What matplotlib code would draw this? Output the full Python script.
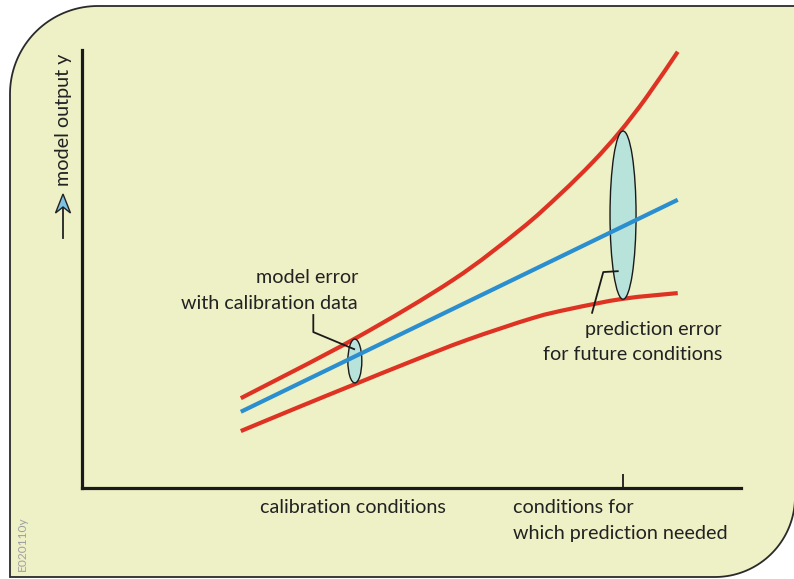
import numpy as np
import matplotlib
matplotlib.use("Agg")
import matplotlib.pyplot as plt
from matplotlib.patches import Ellipse, PathPatch, Polygon
from matplotlib.path import Path

# ---------------- data (arbitrary units 0..10) ----------------
x_upper = [2.41, 4.14, 5.63, 6.65, 7.25, 7.75, 8.16, 8.57, 9.04]
y_upper = [2.05, 3.41, 4.75, 5.90, 6.70, 7.44, 8.13, 8.93, 9.96]

x_lower = [2.41, 3.26, 4.14, 4.98, 5.84, 6.84, 7.41, 8.21, 9.04]
y_lower = [1.30, 1.83, 2.37, 2.88, 3.38, 3.88, 4.09, 4.32, 4.45]

x_model = [2.41, 9.04]
y_model = [1.74, 6.58]

calib_x, calib_y, calib_w, calib_h = 4.14, 2.90, 0.212, 1.00
pred_x, pred_y, pred_w, pred_h = 8.21, 6.23, 0.395, 3.84

tick_positions = [8.21]

leader_calib_x = [3.51, 3.51, 4.13]
leader_calib_y = [3.95, 3.56, 3.17]
leader_pred_x = [8.13, 7.91, 7.74]
leader_pred_y = [4.95, 4.93, 4.00]

label_calib = ["model error", "with calibration data"]
label_pred = ["prediction error", "for future conditions"]
xlab_calib = "calibration conditions"
xlab_pred = ["conditions for", "which prediction needed"]
ylab = "model output y"
code_label = "E020110y"

# ---------------- styling ----------------
W, H = 794, 579
RED = "#DE3223"
BLUE = "#2B8ECF"
PANEL = "#EEF0C6"
ELL = "#B8E3DB"
TXT = "#222222"
plt.rcParams["font.family"] = ["Lato", "DejaVu Sans"]
FS = 14.2

fig = plt.figure(figsize=(W / 100, H / 100), dpi=100)
fig.patch.set_facecolor("white")

# background axes in pixel coordinates
bg = fig.add_axes([0, 0, 1, 1])
bg.set_xlim(0, W)
bg.set_ylim(H, 0)
bg.axis("off")

def arc(cx, cy, r, a0, a1, n=40):
    t = np.radians(np.linspace(a0, a1, n))
    return np.column_stack([cx + r * np.cos(t), cy + r * np.sin(t)])

L, T, R, B = 10, 6, 795, 577
r1, r2 = 88, 80
pts = np.vstack([
    [[L, B]],
    arc(L + r1, T + r1, r1, 180, 270),   # top-left rounded
    [[W + 20, T]],
    [[W + 20, B - r2]],
    arc(R - r2, B - r2, r2, 0, 90),      # bottom-right rounded
    [[L, B]],
])
codes = [Path.MOVETO] + [Path.LINETO] * (len(pts) - 2) + [Path.CLOSEPOLY]
bg.add_patch(PathPatch(Path(pts, codes), facecolor=PANEL, edgecolor="#2a2a2a",
                       lw=1.3, zorder=0))

# y-label and arrow
bg.text(64, 186, ylab, rotation=90, ha="center", va="bottom", fontsize=FS, color=TXT)
bg.plot([63, 63], [238, 206], color="#222222", lw=1.3, zorder=2)
bg.add_patch(Polygon([[63, 194], [55.5, 213], [63, 207], [70.5, 213]], closed=True,
                     facecolor="#7CC3E3", edgecolor="#222222", lw=1.0, zorder=3))
bg.text(22, 571, code_label, rotation=90, ha="center", va="bottom", fontsize=8.6,
        color="#A0A0A0")

# x labels
bg.text(353, 513, xlab_calib, ha="center", va="baseline", fontsize=FS, color=TXT)
for i, s in enumerate(xlab_pred):
    bg.text(513, 513 + 26 * i, s, ha="left", va="baseline", fontsize=FS, color=TXT)

# annotations
for i, s in enumerate(label_calib):
    bg.text(358, 283 + 26 * i, s, ha="right", va="baseline", fontsize=FS, color=TXT)
for i, s in enumerate(label_pred):
    bg.text(722, 335 + 25 * i, s, ha="right", va="baseline", fontsize=FS, color=TXT)

# ---------------- main axes ----------------
ax = fig.add_axes([82 / W, (H - 488) / H, (741 - 82) / W, (488 - 50) / H])
ax.set_xlim(0, 10)
ax.set_ylim(0, 10)
ax.patch.set_alpha(0)
for s in ["top", "right"]:
    ax.spines[s].set_visible(False)
for s in ["left", "bottom"]:
    ax.spines[s].set_linewidth(2.3)
    ax.spines[s].set_color("#1a1a1a")
    ax.spines[s].set_capstyle("projecting")
ax.set_xticks(tick_positions)
ax.set_xticklabels([""])
ax.tick_params(axis="x", direction="in", length=10, width=1.3, color="#1a1a1a")
ax.set_yticks([])


def smooth_path(xs, ys):
    """Catmull-Rom through the read points, rendered as cubic Bezier segments."""
    p = np.column_stack([xs, ys]).astype(float)
    ext = np.vstack([p[0], p, p[-1]])
    verts = [p[0]]
    cds = [Path.MOVETO]
    for i in range(1, len(ext) - 2):
        p0, p1, p2, p3 = ext[i - 1], ext[i], ext[i + 1], ext[i + 2]
        c1 = p1 + (p2 - p0) / 6.0
        c2 = p2 - (p3 - p1) / 6.0
        verts += [c1, c2, p2]
        cds += [Path.CURVE4] * 3
    return Path(np.array(verts), cds)


ax.add_patch(Ellipse((calib_x, calib_y), calib_w, calib_h, facecolor=ELL,
                     edgecolor="#1a1a1a", lw=1.0, zorder=2))
ax.add_patch(Ellipse((pred_x, pred_y), pred_w, pred_h, facecolor=ELL,
                     edgecolor="#1a1a1a", lw=1.0, zorder=2))

for xs, ys in [(x_upper, y_upper), (x_lower, y_lower)]:
    ax.add_patch(PathPatch(smooth_path(xs, ys), facecolor="none", edgecolor=RED,
                           lw=3.0, capstyle="butt", zorder=1))
ax.plot(x_model, y_model, color=BLUE, lw=3.0, solid_capstyle="butt", zorder=3)

ax.plot(leader_calib_x, leader_calib_y, color="#1a1a1a", lw=1.3, zorder=4)
ax.plot(leader_pred_x, leader_pred_y, color="#1a1a1a", lw=1.3, zorder=4)

fig.savefig("out.png", dpi=100, facecolor="white")
